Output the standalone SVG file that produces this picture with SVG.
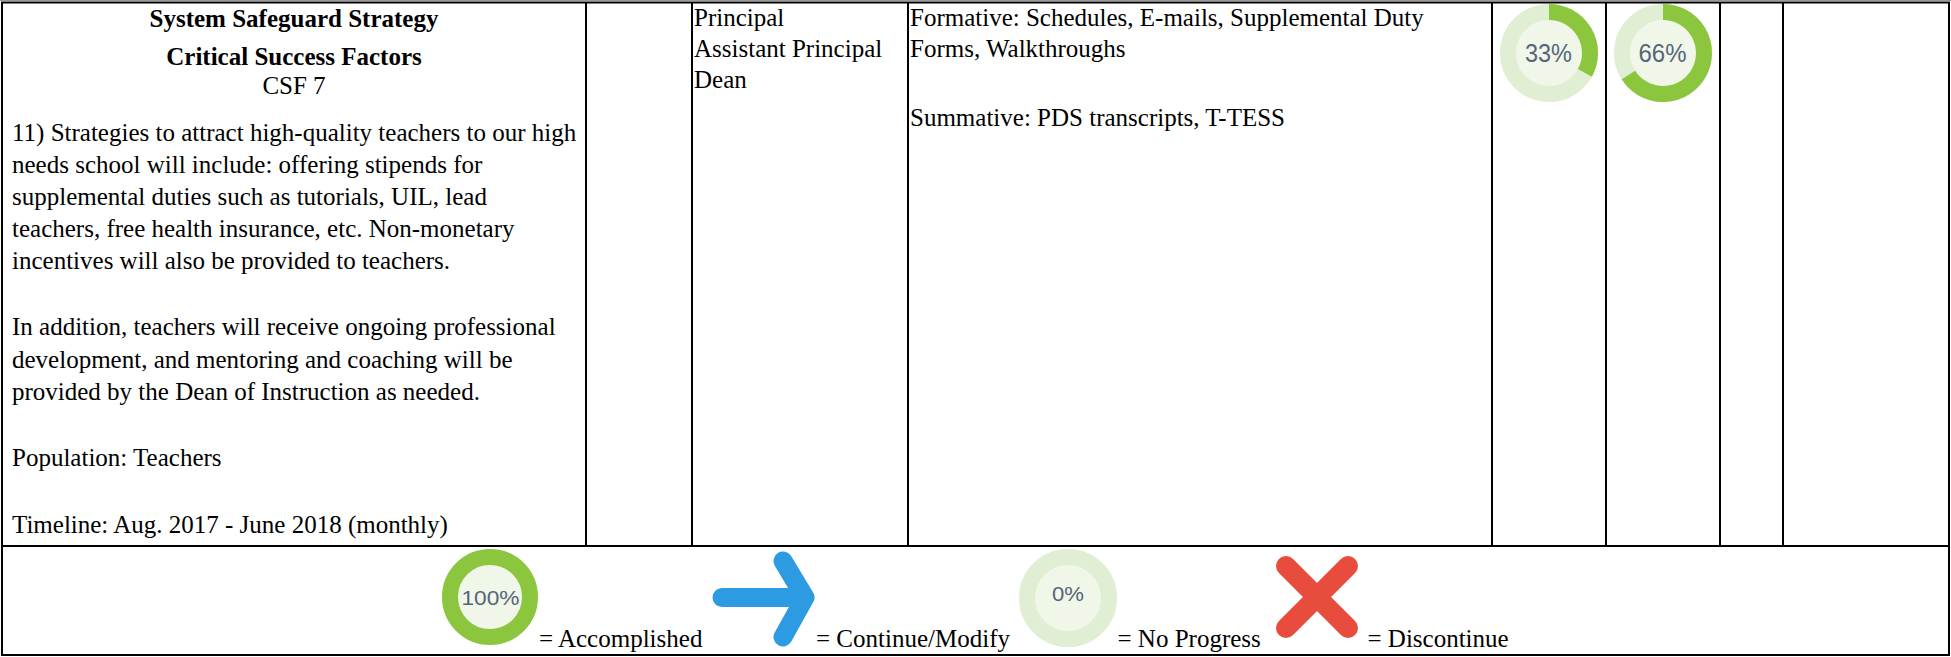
<svg xmlns="http://www.w3.org/2000/svg" width="1951" height="657" viewBox="0 0 1951 657">
<style>
.t{font-family:"Liberation Serif","Times New Roman",serif;font-size:25px;fill:#000}
.b{font-weight:bold}
.p{font-family:"Liberation Sans",Arial,sans-serif;fill:#56657a}
.grid{stroke:#000;stroke-width:2;fill:none}
.track{fill:#f0f7e9;stroke:#e0efd3;stroke-width:16}
.prog{fill:none;stroke:#8cc63e;stroke-width:16}
</style>
<rect x="0" y="0" width="1951" height="657" fill="#fff"/>
<g id="grid">
<line x1="0" y1="0.5" x2="1951" y2="0.5" stroke="#999" stroke-width="1"/>
<line class="grid" x1="1" y1="2.5" x2="1950" y2="2.5"/>
<line class="grid" x1="1" y1="546" x2="1950" y2="546"/>
<line class="grid" x1="1" y1="655" x2="1950" y2="655"/>
<line class="grid" x1="2" y1="2" x2="2" y2="656"/>
<line class="grid" x1="1949" y1="2" x2="1949" y2="656"/>
<line class="grid" x1="586" y1="2" x2="586" y2="546"/>
<line class="grid" x1="692" y1="2" x2="692" y2="546"/>
<line class="grid" x1="908" y1="2" x2="908" y2="546"/>
<line class="grid" x1="1492" y1="2" x2="1492" y2="546"/>
<line class="grid" x1="1606" y1="2" x2="1606" y2="546"/>
<line class="grid" x1="1720" y1="2" x2="1720" y2="546"/>
<line class="grid" x1="1783" y1="2" x2="1783" y2="546"/>
</g>
<g id="strategy">
<text class="t b" x="294" y="27" text-anchor="middle">System Safeguard Strategy</text>
<text class="t b" x="294" y="65" text-anchor="middle">Critical Success Factors</text>
<text class="t" x="294" y="94" text-anchor="middle">CSF 7</text>
<text class="t" x="12" y="140.5">11) Strategies to attract high-quality teachers to our high</text>
<text class="t" x="12" y="172.5">needs school will include: offering stipends for</text>
<text class="t" x="12" y="204.5">supplemental duties such as tutorials, UIL, lead</text>
<text class="t" x="12" y="236.5">teachers, free health insurance, etc. Non-monetary</text>
<text class="t" x="12" y="268.5">incentives will also be provided to teachers.</text>
<text class="t" x="12" y="335">In addition, teachers will receive ongoing professional</text>
<text class="t" x="12" y="367.5">development, and mentoring and coaching will be</text>
<text class="t" x="12" y="400">provided by the Dean of Instruction as needed.</text>
<text class="t" x="12" y="466">Population: Teachers</text>
<text class="t" x="12" y="532.5">Timeline: Aug. 2017 - June 2018 (monthly)</text>
</g>
<g id="staff">
<text class="t" x="694" y="26">Principal</text>
<text class="t" x="694" y="57">Assistant Principal</text>
<text class="t" x="694" y="88">Dean</text>
</g>
<g id="evidence">
<text class="t" x="910" y="26">Formative: Schedules, E-mails, Supplemental Duty</text>
<text class="t" x="910" y="57">Forms, Walkthroughs</text>
<text class="t" x="910" y="126">Summative: PDS transcripts, T-TESS</text>
</g>
<g id="review1">
<circle class="track" cx="1549" cy="53" r="41"/>
<path class="prog" d="M1549 12 A41 41 0 0 1 1584.9 72.8"/>
<text class="p" x="1548.5" y="61.5" font-size="26" text-anchor="middle" textLength="47" lengthAdjust="spacingAndGlyphs">33%</text>
</g>
<g id="review2">
<circle class="track" cx="1663" cy="53" r="41"/>
<path class="prog" d="M1663 12 A41 41 0 1 1 1628.4 75"/>
<text class="p" x="1662.5" y="61.5" font-size="26" text-anchor="middle" textLength="48" lengthAdjust="spacingAndGlyphs">66%</text>
</g>
<g id="legend">
<circle cx="490" cy="597" r="40" fill="#f0f7e9" stroke="#8cc63e" stroke-width="16"/>
<text class="p" x="490.5" y="605" font-size="21" text-anchor="middle" textLength="58" lengthAdjust="spacingAndGlyphs">100%</text>
<text class="t" x="539" y="647">= Accomplished</text>
<path d="M722 597.5 H805 M783 561 L805 597.5 L783 637" fill="none" stroke="#2d9be2" stroke-width="19" stroke-linecap="round" stroke-linejoin="round"/>
<text class="t" x="816" y="647">= Continue/Modify</text>
<circle class="track" cx="1068" cy="598" r="41" stroke-width="15"/>
<text class="p" x="1068" y="601" font-size="21" text-anchor="middle" textLength="32" lengthAdjust="spacingAndGlyphs">0%</text>
<text class="t" x="1117.5" y="647">= No Progress</text>
<path d="M1286 566 L1348 628 M1348 566 L1286 628" fill="none" stroke="#e74c3c" stroke-width="20" stroke-linecap="round"/>
<text class="t" x="1367.5" y="647">= Discontinue</text>
</g>
</svg>
